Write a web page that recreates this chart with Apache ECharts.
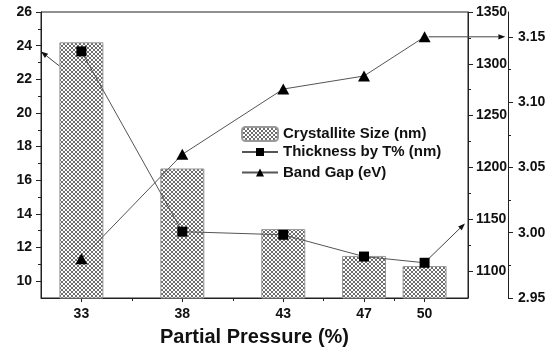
<!DOCTYPE html>
<html><head><meta charset="utf-8">
<script src="https://cdn.jsdelivr.net/npm/echarts@6/dist/echarts.min.js"></script>
<style>html,body{margin:0;padding:0;background:#fff}#c{width:560px;height:354px}</style>
</head><body><div id="c"></div>
<script>
// ---- data ----
const pressures = [33, 38, 43, 47, 50];
const crystalliteSize = [24.2, 16.7, 13.1, 11.5, 10.9];
const thickness = [1312, 1138, 1135, 1114, 1108];
const bandGap = [2.980, 3.060, 3.110, 3.120, 3.150];
const xTicks = [33, 38, 43, 47, 50];
const xMinorTicks = [35.5, 40.5, 45, 48.5];
const sizeTicks = [10, 12, 14, 16, 18, 20, 22, 24, 26];
const sizeMinorTicks = [11, 13, 15, 17, 19, 21, 23, 25];
const thickTicks = [1100, 1150, 1200, 1250, 1300, 1350];
const thickMinorTicks = [1125, 1175, 1225, 1275, 1325];
const gapTicks = [2.95, 3.00, 3.05, 3.10, 3.15];
const gapMinorTicks = [2.975, 3.025, 3.075, 3.125];
// annotation arrows in data coordinates: [x1, y1, x2, y2]
const sizeArrow = [[31.9, 22.8, 31.0, 23.65]];
const thickArrow = [[50.1, 1110, 52.0, 1146]];
const gapArrow = [[50.2, 3.15, 54.0, 3.15]];
const names = ['Crystallite Size (nm)', 'Thickness by T% (nm)', 'Band Gap (eV)'];

const FONT = "'Liberation Sans', Arial, sans-serif";

function hatch() {
  const c = document.createElement('canvas'); c.width = 4; c.height = 4;
  const g = c.getContext('2d');
  g.fillStyle = '#fff'; g.fillRect(0, 0, 4, 4);
  g.fillStyle = '#6e6e6e';
  for (let i = 0; i < 4; i++) { g.fillRect(i, i, 1, 1); g.fillRect(3 - i, i, 1, 1); }
  return c;
}

function arrowItem(params, api) {
  const p1 = api.coord([api.value(0), api.value(1)]);
  const p2 = api.coord([api.value(2), api.value(3)]);
  const ang = Math.atan2(p2[1] - p1[1], p2[0] - p1[0]);
  const L = 7, W = 2.6;
  const bx = p2[0] - L * Math.cos(ang), by = p2[1] - L * Math.sin(ang);
  const nx = -Math.sin(ang) * W, ny = Math.cos(ang) * W;
  return {
    type: 'group', children: [
      { type: 'line', shape: { x1: p1[0], y1: p1[1], x2: bx, y2: by }, style: { stroke: '#444', lineWidth: 1 } },
      { type: 'polygon', shape: { points: [[p2[0], p2[1]], [bx + nx, by + ny], [bx - nx, by - ny]] }, style: { fill: '#111' } }
    ]
  };
}

const labelStyle = { fontSize: 14, fontWeight: 'bold', color: '#111', fontFamily: FONT };
const lineCol = '#222';

function mainY(pos, min, max, ticks, extra) {
  return Object.assign({
    type: 'value', position: pos, min: min, max: max,
    axisLine: { show: true, lineStyle: { color: lineCol, width: 1 } },
    axisTick: { show: true, customValues: ticks, length: 5, lineStyle: { color: lineCol } },
    axisLabel: Object.assign({ customValues: ticks, margin: 8, formatter: v => String(v) }, labelStyle),
    splitLine: { show: false }
  }, extra || {});
}
function minorY(pos, min, max, ticks, offset) {
  return {
    type: 'value', position: pos, min: min, max: max, offset: offset || 0,
    axisLine: { show: false },
    axisTick: { show: true, customValues: ticks, length: 3, lineStyle: { color: lineCol } },
    axisLabel: { show: false }, splitLine: { show: false }
  };
}

const legendText = { fontSize: 15, fontWeight: 'bold', color: '#111', fontFamily: FONT };

const chart = echarts.init(document.getElementById('c'), null, { renderer: 'canvas' });
chart.setOption({
  animation: false,
  backgroundColor: '#fff',
  textStyle: { fontFamily: FONT },
  grid: { left: 41, right: 92, top: 12, bottom: 56, show: true, borderColor: lineCol, borderWidth: 1, backgroundColor: 'transparent' },
  legend: [
    {
      orient: 'vertical', left: 241, top: 126, padding: 0, itemWidth: 36, itemHeight: 14,
      data: [names[0]], selectedMode: false, textStyle: legendText
    },
    {
      orient: 'vertical', left: 241, top: 144.5, padding: 0, itemWidth: 36, itemHeight: 10, itemGap: 5.5,
      data: [names[1], names[2]], selectedMode: false, textStyle: legendText
    }
  ],
  xAxis: [
    {
      type: 'value', position: 'bottom', min: 31, max: 52.15,
      axisLine: { show: true, lineStyle: { color: lineCol, width: 1 } },
      axisTick: { show: true, customValues: xTicks, length: 4, lineStyle: { color: lineCol } },
      axisLabel: Object.assign({ customValues: xTicks, margin: 9 }, labelStyle),
      splitLine: { show: false },
      name: 'Partial Pressure (%)', nameLocation: 'middle', nameGap: 29,
      nameTextStyle: { fontSize: 20, fontWeight: 'bold', color: '#111', fontFamily: FONT }
    },
    {
      type: 'value', position: 'bottom', min: 31, max: 52.15,
      axisLine: { show: false },
      axisTick: { show: true, customValues: xMinorTicks, length: 3, lineStyle: { color: lineCol } },
      axisLabel: { show: false }, splitLine: { show: false }
    }
  ],
  yAxis: [
    mainY('left', 9, 26, sizeTicks, { axisLabel: Object.assign({ customValues: sizeTicks, margin: 9 }, labelStyle) }),
    mainY('right', 1074, 1350, thickTicks),
    mainY('right', 2.95, 3.169, gapTicks, {
      offset: 40,
      axisLabel: Object.assign({ customValues: gapTicks, margin: 10, formatter: v => v.toFixed(2) }, labelStyle)
    }),
    minorY('left', 9, 26, sizeMinorTicks),
    minorY('right', 1074, 1350, thickMinorTicks),
    minorY('right', 2.95, 3.169, gapMinorTicks, 40)
  ],
  series: [
    {
      name: names[0], type: 'bar', xAxisIndex: 0, yAxisIndex: 0, barWidth: 44,
      data: pressures.map((p, i) => [p, crystalliteSize[i]]),
      itemStyle: { color: { image: hatch(), repeat: 'repeat' }, borderColor: '#999', borderWidth: 1 },
      z: 2
    },
    {
      name: names[1], type: 'line', xAxisIndex: 0, yAxisIndex: 1,
      data: pressures.map((p, i) => [p, thickness[i]]),
      symbol: 'rect', symbolSize: 10,
      lineStyle: { color: '#555', width: 1 }, itemStyle: { color: '#000' }, z: 4
    },
    {
      name: names[2], type: 'line', xAxisIndex: 0, yAxisIndex: 2,
      data: pressures.map((p, i) => [p, bandGap[i]]),
      symbol: 'triangle', symbolSize: [12, 11],
      lineStyle: { color: '#555', width: 1 }, itemStyle: { color: '#000' }, z: 4
    },
    { type: 'custom', xAxisIndex: 0, yAxisIndex: 0, renderItem: arrowItem, data: sizeArrow, encode: { x: [0, 2], y: [1, 3] }, z: 3, silent: true },
    { type: 'custom', xAxisIndex: 0, yAxisIndex: 1, renderItem: arrowItem, data: thickArrow, encode: { x: [0, 2], y: [1, 3] }, z: 3, silent: true },
    { type: 'custom', xAxisIndex: 0, yAxisIndex: 2, renderItem: arrowItem, data: gapArrow, encode: { x: [0, 2], y: [1, 3] }, z: 3, silent: true }
  ]
});
</script>
</body></html>
